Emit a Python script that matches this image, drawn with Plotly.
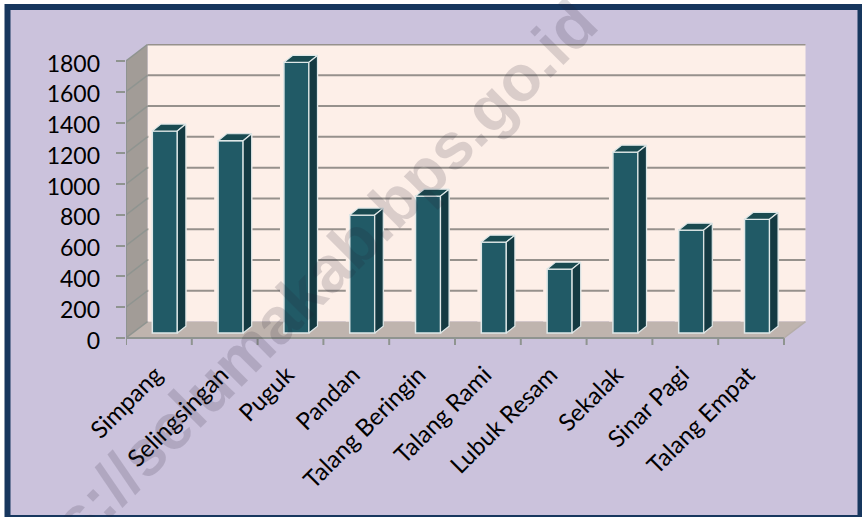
import plotly.graph_objects as go

categories = ["Simpang", "Selingsingan", "Puguk", "Pandan", "Talang Beringin",
              "Talang Rami", "Lubuk Resam", "Sekalak", "Sinar Pagi", "Talang Empat"]
values = [1313, 1250, 1759, 767, 890, 591, 416, 1176, 669, 739]
y_ticks = [0, 200, 400, 600, 800, 1000, 1200, 1400, 1600, 1800]

W, H = 862, 517
X_SCALE, Y_SCALE = 65.8, 0.1539
X_TICK_DROP = 7 / Y_SCALE
L, R, T, B = 126, 55, 44, 172
X_MAX = (W - L - R) / X_SCALE
Y_MAX = 294 / Y_SCALE
WALL_DX, WALL_DY = 0.327, 107
BAR_DX, BAR_BASE, BAR_W = 0.59, 32, 0.38
SIDE_DX, SIDE_DY = 0.13, 45
HALO_BASE = 107
XLABEL_NUDGE, YLABEL_NUDGE = -0.05, -16

NAVY, BG, WALL, FLOOR, SIDEWALL = "#17375e", "#cbc2dc", "#fdefe8", "#bfb4ae", "#a29c97"
GRID, AX = "#96918c", "#8f9490"
FRONT, SIDE, TOP, EDGE = "#215a66", "#143a42", "#1a4a50", "#dfe8e8"


def px(v):
    return (v - L) / (W - L - R)


def py(v):
    return 1 - (v - T) / (H - T - B)


shapes = [
    dict(type="rect", xref="paper", yref="paper", x0=px(7.5), x1=px(860.5), y0=py(7), y1=py(518),
         fillcolor=BG, line=dict(color=NAVY, width=6), layer="below"),
    dict(type="path", xref="x", yref="y", layer="below", fillcolor=WALL, line_width=0,
         path=f"M {WALL_DX} {WALL_DY} L {WALL_DX} {1800 + WALL_DY} L {10 + WALL_DX} {1800 + WALL_DY} L {10 + WALL_DX} {WALL_DY} Z"),
    dict(type="path", xref="x", yref="y", layer="below", fillcolor=SIDEWALL, line_width=0,
         path=f"M 0 0 L 0 1800 L {WALL_DX} {1800 + WALL_DY} L {WALL_DX} {WALL_DY} Z"),
    dict(type="path", xref="x", yref="y", layer="below", fillcolor=FLOOR, line_width=0,
         path=f"M 0 0 L 10 0 L {10 + WALL_DX} {WALL_DY} L {WALL_DX} {WALL_DY} Z"),
]
for t in y_ticks:
    if t > 0:
        shapes.append(dict(type="line", xref="x", yref="y", layer="below", x0=WALL_DX, x1=10 + WALL_DX,
                           y0=t + WALL_DY, y1=t + WALL_DY, line=dict(color=GRID, width=2)))
    shapes.append(dict(type="line", xref="x", yref="y", layer="below", x0=0, x1=WALL_DX,
                       y0=t, y1=t + WALL_DY, line=dict(color=AX, width=1.5)))
for i in range(len(categories) + 1):
    shapes.append(dict(type="line", xref="x", yref="y", layer="below", x0=i, x1=i,
                       y0=-X_TICK_DROP, y1=0, line=dict(color=AX, width=2)))
shapes += [
    dict(type="line", xref="x", yref="y", layer="below", x0=0, x1=0, y0=0, y1=1800, line=dict(color=AX, width=2)),
    dict(type="line", xref="x", yref="y", layer="below", x0=0, x1=10, y0=0, y1=0, line=dict(color=AX, width=2)),
    dict(type="line", xref="x", yref="y", layer="below", x0=10, x1=10 + WALL_DX, y0=0, y1=WALL_DY,
         line=dict(color="#b5ada8", width=1.5)),
]

xs = [i + BAR_DX for i in range(len(values))]
top_x, top_y, side_x, side_y = [], [], [], []
for x, v in zip(xs, values):
    x0, x1 = x - BAR_W / 2, x + BAR_W / 2
    yt, yb = v + BAR_BASE, BAR_BASE
    top_x += [x0, x1, x1 + SIDE_DX, x0 + SIDE_DX, x0, None]
    top_y += [yt, yt, yt + SIDE_DY, yt + SIDE_DY, yt, None]
    side_x += [x1, x1 + SIDE_DX, x1 + SIDE_DX, x1, x1, None]
    side_y += [yb, yb + SIDE_DY, yt + SIDE_DY, yt, yb, None]

fig = go.Figure()
fig.add_bar(x=xs, y=[v + BAR_BASE + SIDE_DY - HALO_BASE for v in values], base=HALO_BASE,
            width=BAR_W + 0.2, marker=dict(color=WALL, line_width=0), offset=-(BAR_W + 0.1) / 2 - 0.01,
            hoverinfo="skip", showlegend=False)
fig.add_bar(x=xs, y=values, base=BAR_BASE, width=BAR_W,
            marker=dict(color=FRONT, line=dict(color=EDGE, width=1.5)), showlegend=False)
fig.add_scatter(x=top_x, y=top_y, mode="lines", fill="toself", fillcolor=TOP,
                line=dict(color=EDGE, width=1.2), hoverinfo="skip", showlegend=False)
fig.add_scatter(x=side_x, y=side_y, mode="lines", fill="toself", fillcolor=SIDE,
                line=dict(color=EDGE, width=1.2), hoverinfo="skip", showlegend=False)

fig.update_layout(
    width=W, height=H, margin=dict(l=L, r=R, t=T, b=B, autoexpand=False),
    paper_bgcolor="#ffffff", plot_bgcolor="rgba(0,0,0,0)", barmode="overlay",
    font=dict(family="Lato", color="#000000"), shapes=shapes,
    xaxis=dict(range=[0, X_MAX], showgrid=False, zeroline=False, showline=False,
               tickmode="array", tickvals=[i + 0.5 + XLABEL_NUDGE for i in range(10)], ticktext=categories,
               tickangle=-45, ticks="", tickfont=dict(size=24), ticklabelstandoff=10),
    yaxis=dict(range=[-X_TICK_DROP, Y_MAX], showgrid=False, zeroline=False, showline=False,
               tickmode="array", tickvals=[t + YLABEL_NUDGE for t in y_ticks],
               ticktext=[str(t) for t in y_ticks], ticks="", tickfont=dict(size=23), ticklabelstandoff=25,
               minor=dict(tickmode="array", tickvals=y_ticks, ticks="outside", ticklen=9, tickwidth=2,
                          tickcolor=AX, showgrid=False)),
    annotations=[dict(text="<b>s://selumakab.bps.go.id</b>", xref="x", yref="y",
                      x=(324 - L) / X_SCALE, y=(338 - 272) / Y_SCALE, showarrow=False, textangle=-45,
                      font=dict(family="Liberation Sans", size=65, color="rgba(40,30,50,0.16)"))],
)
fig.write_html("out.html", config=dict(displayModeBar=False),
               post_script="document.body.style.margin='0';")
